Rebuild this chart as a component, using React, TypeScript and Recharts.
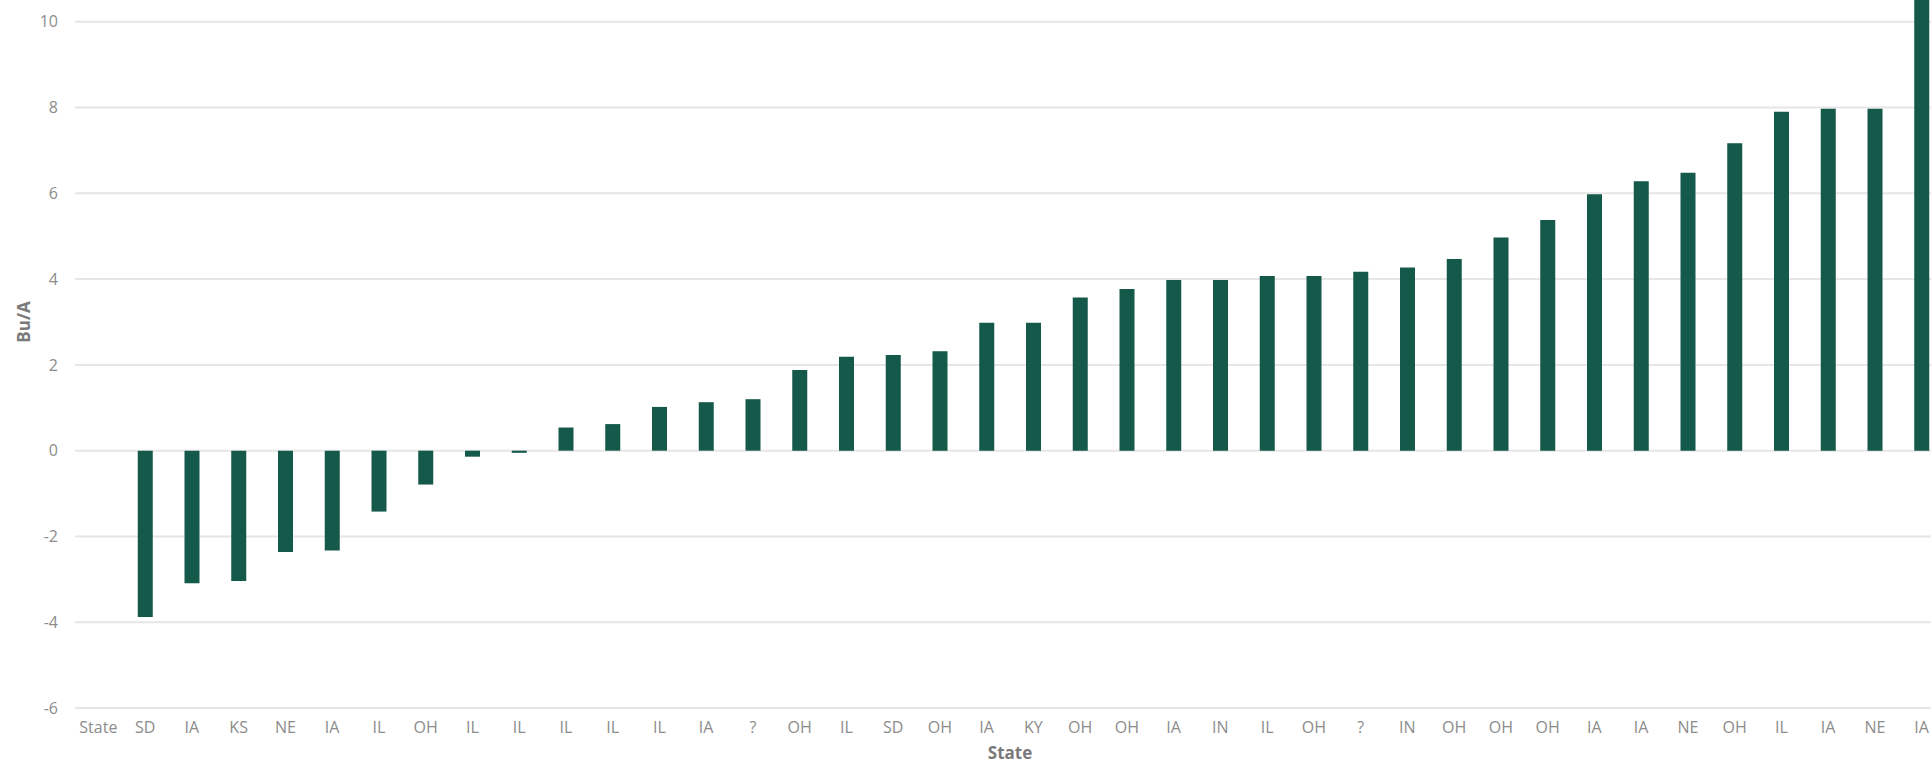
import React from 'react';
import { BarChart, Bar, XAxis, YAxis, CartesianGrid } from 'recharts';

const states = ['State', 'SD', 'IA', 'KS', 'NE', 'IA', 'IL', 'OH', 'IL', 'IL', 'IL', 'IL', 'IL', 'IA', '?', 'OH', 'IL', 'SD', 'OH', 'IA', 'KY', 'OH', 'OH', 'IA', 'IN', 'IL', 'OH', '?', 'IN', 'OH', 'OH', 'OH', 'IA', 'IA', 'NE', 'OH', 'IL', 'IA', 'NE', 'IA'];
const buPerAcre: (number | null)[] = [null, -3.88, -3.09, -3.04, -2.36, -2.33, -1.42, -0.79, -0.14, -0.05, 0.54, 0.62, 1.02, 1.13, 1.2, 1.88, 2.19, 2.23, 2.32, 2.98, 2.98, 3.57, 3.77, 3.98, 3.98, 4.07, 4.07, 4.17, 4.27, 4.47, 4.97, 5.38, 5.98, 6.28, 6.48, 7.17, 7.9, 7.97, 7.97, 11];
const yTicks = [-6, -4, -2, 0, 2, 4, 6, 8, 10];

const data = states.map((s, i) => ({ id: i, state: s, value: buPerAcre[i] }));

const FONT = '"Open Sans", "Noto Sans", sans-serif';
const TICK_COLOR = '#8c8c8c';

export default function App() {
  return (
    <div style={{ position: 'absolute', left: 0, top: 0, width: 1931, height: 766, overflow: 'hidden', background: '#fff' }}>
      <div style={{ position: 'absolute', left: 0, top: -100 }}>
        <BarChart
          width={1950}
          height={878}
          data={data}
          margin={{ top: 36, right: 5, bottom: 10, left: 0 }}
          barSize={15}
        >
          <CartesianGrid vertical={false} stroke="#e6e6e6" strokeWidth={2} />
          <XAxis
            dataKey="id"
            type="category"
            interval={0}
            axisLine={false}
            tickLine={false}
            tickSize={0}
            tickMargin={14}
            height={60}
            tickFormatter={(v: any) => states[v as number]}
            tick={{ fill: TICK_COLOR, fontSize: 16, fontFamily: FONT }}
            label={{
              content: (props: any) => {
                const vb = props.viewBox || {};
                return (
                  <text
                    x={vb.x + vb.width / 2}
                    y={vb.y + 51}
                    textAnchor="middle"
                    fill="#7a7a7a"
                    fontSize={17}
                    fontWeight={700}
                    fontFamily={FONT}
                  >
                    State
                  </text>
                );
              },
            }}
          />
          <YAxis
            type="number"
            domain={[-6, 12]}
            ticks={yTicks}
            width={75}
            axisLine={false}
            tickLine={false}
            tickSize={0}
            tickMargin={17}
            tick={{ fill: TICK_COLOR, fontSize: 16, fontFamily: FONT }}
            label={{
              content: (props: any) => {
                const vb = props.viewBox || {};
                const cx = 23;
                const cy = vb.y + vb.height / 2;
                return (
                  <text
                    x={cx}
                    y={cy}
                    transform={`rotate(-90 ${cx} ${cy})`}
                    textAnchor="middle"
                    dominantBaseline="central"
                    fill="#7a7a7a"
                    fontSize={17}
                    fontWeight={700}
                    fontFamily={FONT}
                  >
                    Bu/A
                  </text>
                );
              },
            }}
          />
          <Bar dataKey="value" fill="#14594a" isAnimationActive={false} />
        </BarChart>
      </div>
    </div>
  );
}
